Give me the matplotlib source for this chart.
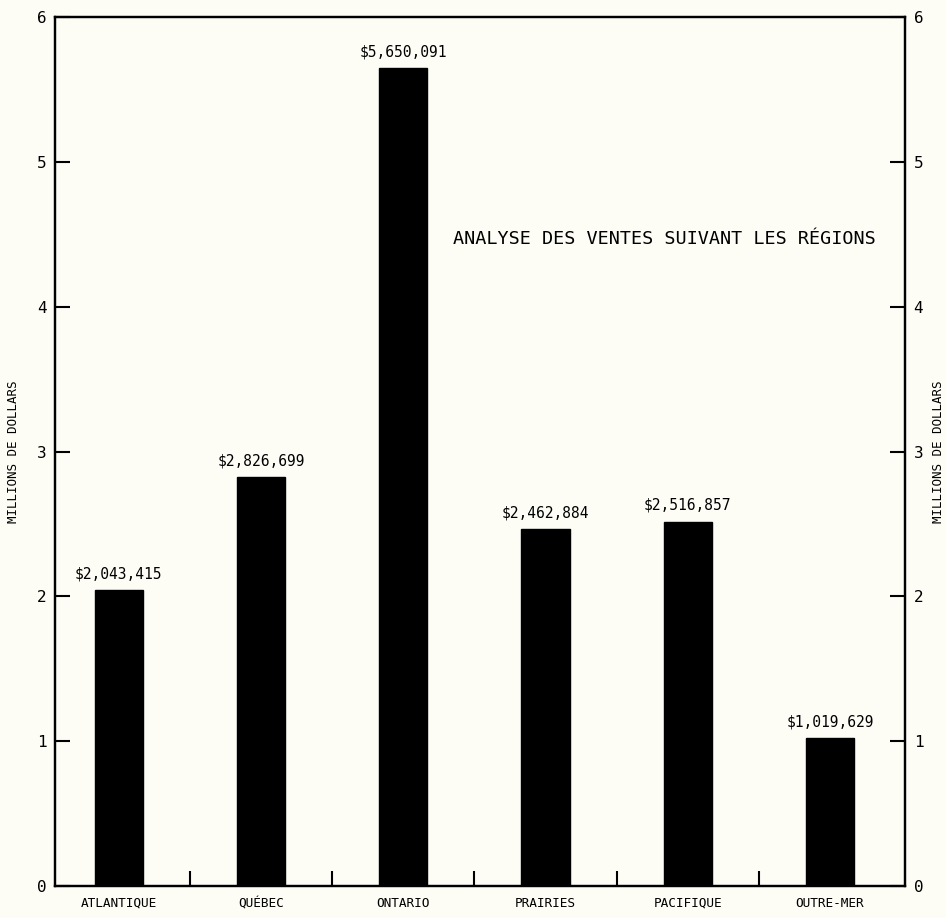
import matplotlib
matplotlib.use("Agg")
import matplotlib.pyplot as plt
import numpy as np

regions = ["ATLANTIQUE", "QUÉBEC", "ONTARIO", "PRAIRIES", "PACIFIQUE", "OUTRE-MER"]
sales = [2043415, 2826699, 5650091, 2462884, 2516857, 1019629]
value_labels = ["$2,043,415", "$2,826,699", "$5,650,091", "$2,462,884", "$2,516,857", "$1,019,629"]
y_ticks = [0, 1, 2, 3, 4, 5, 6]
title = "ANALYSE DES VENTES SUIVANT LES RÉGIONS"
ylabel = "MILLIONS DE DOLLARS"

FONT = "DejaVu Sans Mono"
bg = "#fdfdf6"

fig = plt.figure(figsize=(9.46, 9.18), dpi=100, facecolor=bg)
ax = fig.add_axes([0.058, 0.035, 0.899, 0.946], facecolor=bg)

x = np.arange(len(regions))
vals = np.array(sales) / 1e6
ax.bar(x, vals, width=0.34, color="black", edgecolor="black")

for xi, v, lab in zip(x, vals, value_labels):
    ax.text(xi, v + 0.06, lab, ha="center", va="bottom", fontsize=10.5,
            family=FONT)

ax.set_xlim(-0.45, 5.53)
ax.set_ylim(0, 6)
ax.set_yticks(y_ticks)
ax.set_yticklabels([str(t) for t in y_ticks], family=FONT, fontsize=11.5)
ax.set_xticks(x)
ax.set_xticklabels(regions, family=FONT, fontsize=9.2)
ax.set_xticks(np.arange(0.5, 5.0, 1.0), minor=True)
ax.tick_params(axis="x", which="major", length=0, pad=8)
ax.tick_params(axis="x", which="minor", direction="in", length=11, width=1.5)
ax.tick_params(axis="y", which="major", direction="in", length=11, width=1.5, pad=6)

for s in ax.spines.values():
    s.set_linewidth(1.6)

ax.set_ylabel(ylabel, family=FONT, fontsize=9, labelpad=12)

ax2 = ax.twinx()
ax2.set_ylim(0, 6)
ax2.set_yticks(y_ticks)
ax2.set_yticklabels([str(t) for t in y_ticks], family=FONT, fontsize=11.5)
ax2.tick_params(axis="y", direction="in", length=11, width=1.5, pad=6)
ax2.set_ylabel(ylabel, family=FONT, fontsize=9, rotation=90, labelpad=6)
for s in ax2.spines.values():
    s.set_linewidth(1.6)

ax.text(0.468, 0.745, title, transform=ax.transAxes, ha="left", va="center",
        family=FONT, fontsize=13.3)

fig.savefig("out.png", dpi=100, facecolor=bg)
